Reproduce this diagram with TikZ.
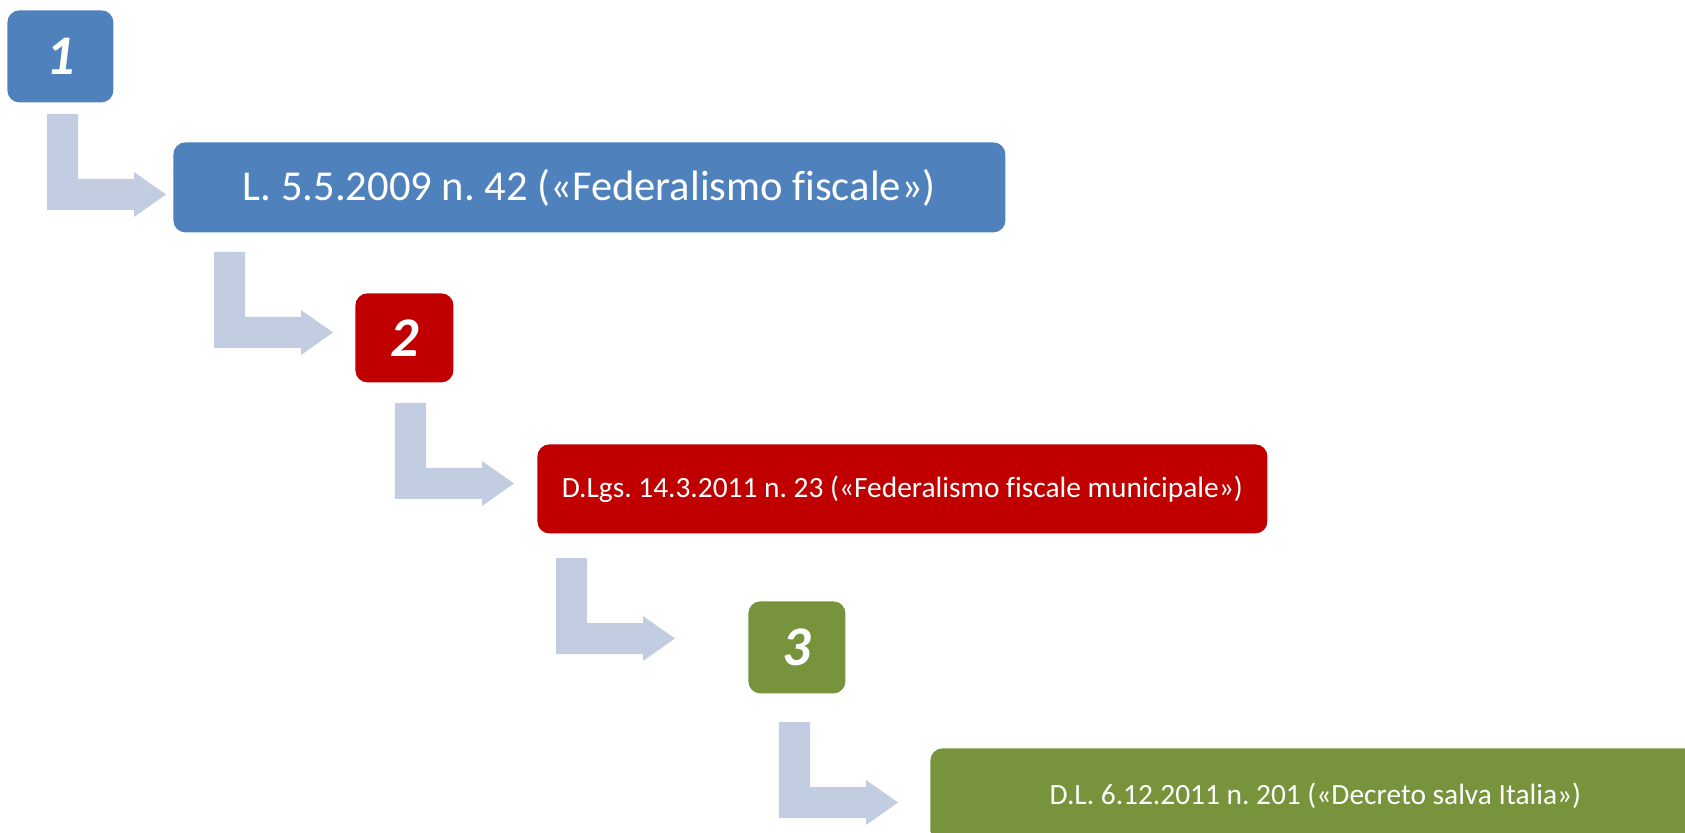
\documentclass[tikz,border=0pt]{standalone}
\usepackage{fontspec}
\setmainfont[Ligatures=NoCommon]{Carlito}
\frenchspacing
\definecolor{cblue}{HTML}{4F81BD}
\definecolor{cred}{HTML}{C00000}
\definecolor{cgreen}{HTML}{77933C}
\definecolor{carrow}{HTML}{C3CDE1}
\tikzset{
  box/.style={rounded corners=6pt, inner sep=0pt, anchor=north west, text=white, align=center},
  numbox/.style={box, font=\fontsize{28}{30}\selectfont\bfseries\itshape},
  bent/.pic={\fill[carrow] (0,0) -- (31,0) -- (31,65) -- (87,65) -- (87,58) -- (119,80.5) -- (87,103) -- (87,96) -- (0,96) -- cycle;}
}
\begin{document}
\begin{tikzpicture}[x=0.5pt,y=-0.5pt]
\useasboundingbox (0,0) rectangle (1685,833);
\node[numbox, fill=cblue, minimum width=53pt, minimum height=46pt] (n1) at (7,10) {1};
\node[box, fill=cblue, minimum width=416pt, minimum height=45pt, font=\fontsize{21.3}{24}\selectfont] (b1) at (173,142) {L. 5.5.2009 n. 42 («Federalismo fiscale»)};
\node[numbox, fill=cred, minimum width=49pt, minimum height=44.5pt] (n2) at (355,293) {2};
\node[box, fill=cred, minimum width=365pt, minimum height=44.5pt, font=\fontsize{14.7}{17}\selectfont] (b2) at (537,444) {D.Lgs. 14.3.2011 n. 23 («Federalismo fiscale municipale»)};
\node[numbox, fill=cgreen, minimum width=48.5pt, minimum height=46pt] (n3) at (748,601) {3};
\node[box, fill=cgreen, minimum width=385pt, minimum height=47pt, font=\fontsize{14.7}{17}\selectfont] (b3) at (930,748) {D.L. 6.12.2011 n. 201 («Decreto salva Italia»)};
\pic at (47,114) {bent};
\pic at (214,252) {bent};
\pic at (395,403) {bent};
\pic at (556,558) {bent};
\pic at (779,722) {bent};
\end{tikzpicture}
\end{document}
